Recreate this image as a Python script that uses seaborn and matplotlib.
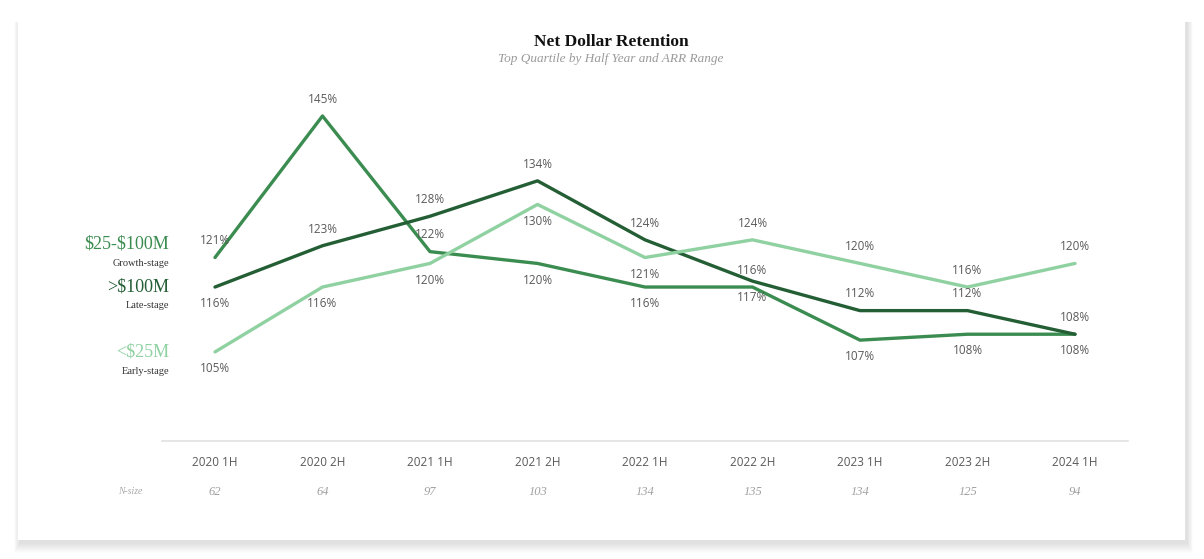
import matplotlib
matplotlib.use("Agg")
import matplotlib.pyplot as plt
from matplotlib.patches import FancyBboxPatch
import seaborn as sns
import pandas as pd

periods = ["2020 1H", "2020 2H", "2021 1H", "2021 2H", "2022 1H",
           "2022 2H", "2023 1H", "2023 2H", "2024 1H"]
n_size = [62, 64, 97, 103, 134, 135, 134, 125, 94]

growth = [121, 145, 122, 120, 116, 116, 107, 108, 108]
late = [116, 123, 128, 134, 124, 117, 112, 112, 108]
early = [105, 116, 120, 130, 121, 124, 120, 116, 120]

series_names = ["$25-$100M", ">$100M", "<$25M"]
series_sub = ["Growth-stage", "Late-stage", "Early-stage"]
series_vals = [growth, late, early]
colors = {"$25-$100M": "#3b8c50", ">$100M": "#245e35", "<$25M": "#8fd1a1"}

# label placement: +1 above, -1 below
growth_pos = [1, 1, 1, -1, -1, 1, -1, -1, -1]
late_pos = [-1, 1, 1, 1, 1, -1, 1, 1, 1]
early_pos = [-1, -1, -1, -1, -1, 1, 1, 1, 1]
label_pos = [growth_pos, late_pos, early_pos]

rows = []
for name, vals in zip(series_names, series_vals):
    for i, v in enumerate(vals):
        rows.append({"idx": i, "value": v, "series": name})
df = pd.DataFrame(rows)

sns.set_theme(style="white")
plt.rcParams["font.family"] = ["Open Sans", "DejaVu Sans"]
plt.rcParams["text.parse_math"] = False

W, H = 1204, 559
fig = plt.figure(figsize=(W / 100, H / 100), dpi=100)
fig.patch.set_facecolor("white")

# card with soft shadow
for k in range(10, 0, -1):
    fig.patches.append(FancyBboxPatch(
        ((18 - k * 0.6 + 2) / W, (19 - k * 1.0 - 3) / H),
        (1167 + k * 1.2) / W, (521 + k * 1.0) / H,
        boxstyle="square,pad=0", transform=fig.transFigure,
        facecolor="#000000", alpha=0.012, edgecolor="none", zorder=0))
fig.patches.append(FancyBboxPatch(
    (18 / W, 19 / H), 1167 / W, 521 / H, boxstyle="square,pad=0",
    transform=fig.transFigure, facecolor="white", edgecolor="none", zorder=1))

ax = fig.add_axes([162 / W, 1 - 441 / H, 966 / W, 351 / H])
ax.set_zorder(2)
ax.patch.set_alpha(0)

sns.lineplot(data=df, x="idx", y="value", hue="series", palette=colors,
             hue_order=series_names, linewidth=2.4, ax=ax, legend=False,
             sort=False)

ax.set_xlim(-0.493, 8.493)
ax.set_ylim(89.9, 149.4)

for name, vals, pos in zip(series_names, series_vals, label_pos):
    for i, (v, p) in enumerate(zip(vals, pos)):
        ax.annotate(f"{v}%", (i, v), xytext=(0, 12 * p),
                    textcoords="offset points", ha="center", va="center",
                    fontsize=8.5, color="#5a5a5a")

for s in ["top", "right", "left"]:
    ax.spines[s].set_visible(False)
ax.spines["bottom"].set_color("#e2e2e2")
ax.spines["bottom"].set_linewidth(1.2)
ax.set_yticks([])
ax.set_xticks(range(len(periods)))
ax.set_xticklabels(periods, fontsize=8.5, color="#5a5a5a")
ax.tick_params(axis="x", length=0, pad=11)
ax.set_xlabel("")
ax.set_ylabel("")

# N-size row
for i, n in enumerate(n_size):
    ax.annotate(str(n), (i, 0), xycoords=("data", "axes fraction"),
                xytext=(0, -37), textcoords="offset points", ha="center",
                va="center", fontsize=9, color="#a0a0a0",
                family="Liberation Serif", style="italic")
fig.text(130 / W, 1 - 492 / H, "N-size", ha="center", va="center",
         fontsize=7, color="#a8a8a8", family="Liberation Serif",
         style="italic")

# title
fig.text(611 / W, 1 - 42 / H, "Net Dollar Retention", ha="center",
         va="center", fontsize=12.5, color="#111111",
         family="Liberation Serif", weight="bold")
fig.text(611 / W, 1 - 59 / H, "Top Quartile by Half Year and ARR Range",
         ha="center", va="center", fontsize=9.5, color="#9a9a9a",
         family="Liberation Serif", style="italic")

# left series labels
label_y = [244, 287, 352]
for name, sub, y in zip(series_names, series_sub, label_y):
    fig.text(169 / W, 1 - y / H, name, ha="right", va="center",
             fontsize=13, color=colors[name], family="Liberation Serif")
    fig.text(169 / W, 1 - (y + 19) / H, sub, ha="right", va="center",
             fontsize=7.5, color="#333333", family="Liberation Serif")

fig.savefig("out.png", dpi=100, facecolor=fig.get_facecolor())
